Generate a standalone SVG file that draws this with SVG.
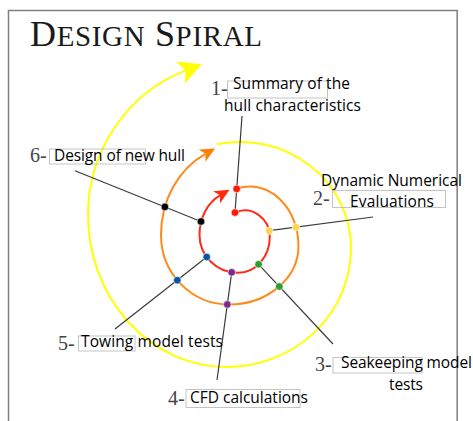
<svg xmlns="http://www.w3.org/2000/svg" width="473" height="421" viewBox="0 0 473 421">
  <style>
    .frame { fill: none; stroke: #7f7f7f; stroke-width: 1.5; }
    .title { font-family: "Liberation Serif", serif; fill: #1a1a1a; }
    .lbl { font-family: "Open Sans", "Liberation Sans", sans-serif; font-size: 15.5px; fill: #000; }
    .num { font-family: "Liberation Serif", serif; font-size: 20px; fill: #444; }
    .box { fill: none; stroke: #c4c4c4; stroke-width: 1; }
    .lead { stroke: #3a3a3a; stroke-width: 1.2; fill: none; }
    .turn { fill: none; stroke-width: 2; }
    .dot { stroke: #fff; stroke-width: 0.6; }
  </style>
  <defs>
    <marker id="headRed" viewBox="0 -7 15 14" markerWidth="15" markerHeight="14" refX="4" refY="0" orient="auto" markerUnits="userSpaceOnUse">
      <path d="M0,-7 L15,0 L0,7 L4,0 Z" fill="#ff2a0a"/>
    </marker>
    <marker id="headOrange" viewBox="0 -7 15 14" markerWidth="15" markerHeight="14" refX="4" refY="0" orient="auto" markerUnits="userSpaceOnUse">
      <path d="M0,-7 L15,0 L0,7 L4,0 Z" fill="#ff7f00"/>
    </marker>
    <marker id="headYellow" viewBox="0 -12 23 24" markerWidth="23" markerHeight="24" refX="6" refY="0" orient="auto" markerUnits="userSpaceOnUse">
      <path d="M0,-12 L23,0 L0,12 L6,0 Z" fill="#ffff00"/>
    </marker>
  </defs>

  <rect width="473" height="421" fill="#fff"/>

  <!-- page frame -->
  <path class="frame" d="M8.5,421 V10.5 H457.2 V421"/>

  <!-- heading -->
  <text class="title" x="30" y="46" textLength="232"><tspan font-size="36">D</tspan><tspan font-size="29">ESIGN</tspan><tspan font-size="36"> S</tspan><tspan font-size="29">PIRAL</tspan></text>

  <!-- the three turns of the spiral -->
  <g id="spiral">
    <path class="turn" stroke="#ffff00" marker-end="url(#headYellow)" d="M216.7,144.3 A111,106 0 0 1 351,248 A124,119 0 0 1 227,367 A139,152 0 0 1 88,215 A152,154.8 0 0 1 185.9,70.4"/>
    <path class="turn" stroke="#ff8a1a" marker-end="url(#headOrange)" d="M236.5,188.9 A48.5,59.5 0 0 1 298.5,246 A69.5,58.5 0 0 1 229,304.5 A68,69.5 0 0 1 161,235 A79,90.3 0 0 1 205.5,153.8"/>
    <path class="turn" stroke="#ff2a1a" marker-end="url(#headRed)" d="M235,212.8 A24.8,26.5 0 0 1 269.8,237 A31.8,35.8 0 0 1 238,272.8 A38.5,37.8 0 0 1 199.5,235 A35.5,43.8 0 0 1 220,195.3"/>
  </g>

  <!-- leader lines from the stations to their labels -->
  <g id="connectors">
    <line class="lead" x1="235" y1="212.5" x2="242" y2="116"/>
    <line class="lead" x1="269.3" y1="230.7" x2="373" y2="217"/>
    <line class="lead" x1="258.6" y1="264.3" x2="333" y2="344"/>
    <line class="lead" x1="231.7" y1="272.3" x2="217" y2="380"/>
    <line class="lead" x1="206.7" y1="257" x2="115" y2="329"/>
    <line class="lead" x1="201" y1="221.5" x2="75" y2="170.7"/>
  </g>

  <g id="step1">
    <circle class="dot" cx="235" cy="212.6" r="3.8" fill="#ff1a00"/>
    <circle class="dot" cx="236.7" cy="188.9" r="3.8" fill="#ff1a00"/>
    <rect class="box" x="227.5" y="81" width="100" height="17"/>
    <text class="num" x="211" y="95">1-</text>
    <text class="lbl" x="233" y="89" textLength="117">Summary of the</text>
    <text class="lbl" x="224" y="111" textLength="137">hull characteristics</text>
  </g>

  <g id="step2">
    <circle class="dot" cx="269.3" cy="230.7" r="3.8" fill="#ffd24f"/>
    <circle class="dot" cx="296" cy="227.2" r="3.8" fill="#ffd24f"/>
    <rect class="box" x="332.5" y="190.5" width="113" height="17"/>
    <text class="num" x="313" y="205">2-</text>
    <text class="lbl" x="321" y="186" textLength="141">Dynamic Numerical</text>
    <text class="lbl" x="350" y="207" textLength="84">Evaluations</text>
  </g>

  <g id="step3">
    <circle class="dot" cx="258.6" cy="264.3" r="3.8" fill="#2f9e2f"/>
    <circle class="dot" cx="279.3" cy="286.5" r="3.8" fill="#2f9e2f"/>
    <rect class="box" x="333" y="357.5" width="89" height="15.5"/>
    <text class="num" x="315" y="371">3-</text>
    <text class="lbl" x="341" y="367.5" textLength="131">Seakeeping model</text>
    <text class="lbl" x="389" y="390" textLength="34">tests</text>
  </g>

  <g id="step4">
    <circle class="dot" cx="231.7" cy="272.3" r="3.8" fill="#7a2a8e"/>
    <circle class="dot" cx="227.3" cy="304.4" r="3.8" fill="#7a2a8e"/>
    <rect class="box" x="186" y="389.5" width="114" height="18"/>
    <text class="num" x="168" y="405">4-</text>
    <text class="lbl" x="190" y="403" textLength="118">CFD calculations</text>
  </g>

  <g id="step5">
    <circle class="dot" cx="206.7" cy="257" r="3.8" fill="#0c55a3"/>
    <circle class="dot" cx="177.3" cy="280.2" r="3.8" fill="#0c55a3"/>
    <rect class="box" x="78.5" y="336" width="56.5" height="15"/>
    <text class="num" x="58" y="350">5-</text>
    <text class="lbl" x="81" y="347" textLength="142">Towing model tests</text>
  </g>

  <g id="step6">
    <circle class="dot" cx="201" cy="221.5" r="3.8" fill="#000"/>
    <circle class="dot" cx="164.9" cy="206.9" r="3.8" fill="#000"/>
    <rect class="box" x="49.5" y="149" width="96" height="15"/>
    <text class="num" x="30" y="162">6-</text>
    <text class="lbl" x="54" y="161" textLength="131">Design of new hull</text>
  </g>
</svg>
